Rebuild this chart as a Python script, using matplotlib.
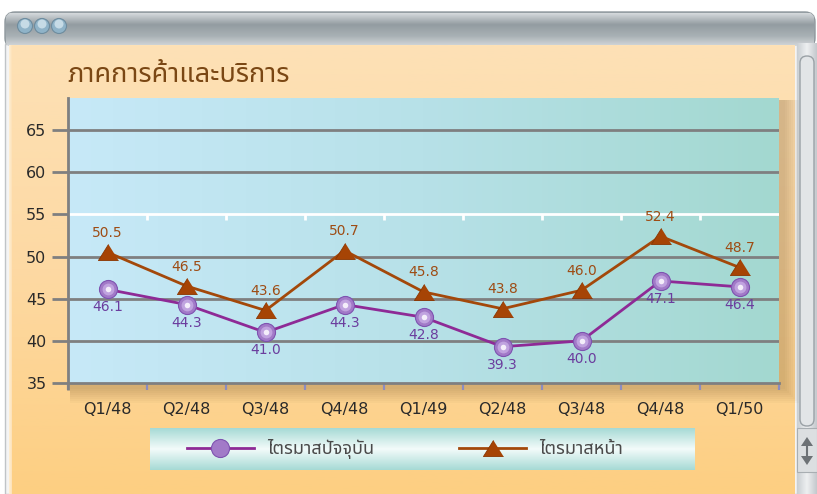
import numpy as np
import matplotlib
matplotlib.use("Agg")
import matplotlib.pyplot as plt
from matplotlib.patches import FancyBboxPatch, Rectangle, Circle, Polygon
from matplotlib.colors import LinearSegmentedColormap

# data
quarters = ["Q1/48", "Q2/48", "Q3/48", "Q4/48", "Q1/49", "Q2/48", "Q3/48", "Q4/48", "Q1/50"]
current_q = [46.1, 44.3, 41.0, 44.3, 42.8, 39.3, 40.0, 47.1, 46.4]
next_q = [50.5, 46.5, 43.6, 50.7, 45.8, 43.8, 46.0, 52.4, 48.7]
y_ticks = [35, 40, 45, 50, 55, 60, 65]
title = "ภาคการค้าและบริการ"
series_names = ["ไตรมาสปัจจุบัน", "ไตรมาสหน้า"]

plt.rcParams["font.family"] = ["DejaVu Sans", "Noto Sans Thai"]
THAI = ["Noto Sans Thai", "DejaVu Sans"]

W, H = 817, 494
fig = plt.figure(figsize=(W / 100, H / 100), dpi=100)
fig.patch.set_facecolor("white")

# background layer in pixel coordinates (window frame)
bg = fig.add_axes([0, 0, 1, 1], zorder=-10)
bg.set_xlim(0, W)
bg.set_ylim(H, 0)
bg.axis("off")


def grad(ax, x0, x1, y0, y1, colors, horizontal=False, z=0, stops=None):
    cmap = LinearSegmentedColormap.from_list("g", colors if stops is None else list(zip(stops, colors)))
    g = np.linspace(0, 1, 256)
    img = g[None, :] if horizontal else g[:, None]
    return ax.imshow(img, cmap=cmap, extent=[x0, x1, y1, y0], aspect="auto", zorder=z,
                     interpolation="bilinear")


# title bar
bar = FancyBboxPatch((5, 12), 810, 36, boxstyle="round,pad=0,rounding_size=10",
                     facecolor="#a8b0b5", edgecolor="#8e979c", lw=1, zorder=1)
bg.add_patch(bar)
im = grad(bg, 6, 814, 13, 46, ["#d6dadd", "#939ca1", "#a9b1b5", "#d3d7da"], z=1.5,
          stops=[0, 0.35, 0.7, 1])
im.set_clip_path(bar)
for cx in (25, 42, 59):
    bg.add_patch(Circle((cx, 26), 7.5, facecolor="#8fb3c8", edgecolor="#6e8c9e", lw=0.8, zorder=2))
    bg.add_patch(Circle((cx, 24), 4.5, facecolor="#c6dbe6", edgecolor="none", zorder=2.1))

# peach content area
bg.add_patch(Rectangle((5, 44), 792, 450, facecolor="#f4f4f4", edgecolor="#c0c4c7", lw=1, zorder=1))
grad(bg, 9, 795, 46, 494, ["#fde1b6", "#fdd9a3", "#fdcf82"], z=2)
grad(bg, 9, 12, 46, 494, ["#fff0d8", "#fde1b6"], horizontal=True, z=2.1)

# scrollbar
grad(bg, 797, 817, 44, 494, ["#c9ced2", "#eef0f1", "#c3c8cc"], horizontal=True, z=2)
bg.add_patch(FancyBboxPatch((800, 56), 14, 370, boxstyle="round,pad=0,rounding_size=7",
                            facecolor="#e2e5e7", edgecolor="#9aa1a6", lw=1, zorder=3))
bg.add_patch(Rectangle((797, 428), 20, 44, facecolor="#dcdfe1", edgecolor="#a8aeb2", lw=0.8, zorder=3))
bg.add_patch(Polygon([(801, 446), (813, 446), (807, 437)], facecolor="#6d7276", zorder=4))
bg.add_patch(Polygon([(801, 456), (813, 456), (807, 465)], facecolor="#6d7276", zorder=4))
bg.plot([807, 807], [445, 457], color="#6d7276", lw=1.5, zorder=4)

# title text
fig.text(67 / W, 1 - 75 / H, title, fontsize=19.5, color="#7a4714", family=THAI,
         va="center", ha="left")

# plot area shadow (soft, to the right and below)
for i in range(8):
    d = 18 - 2 * i
    bg.add_patch(Rectangle((68 + 2, 98 + 2), 711 + d, 285 + d, facecolor="#6b4a20",
                           alpha=0.035, edgecolor="none", zorder=3))

# legend box
grad(bg, 150, 695, 428, 470, ["#a6dad5", "#f3fbfa", "#a6dad5"], z=4)

# main axes
x0, x1, y0, y1 = 68, 779, 98, 383
px_per_unit = (383 - 130) / 30.0
ax = fig.add_axes([x0 / W, 1 - y1 / H, (x1 - x0) / W, (y1 - y0) / H])
ax.set_xlim(-0.5, len(quarters) - 0.5)
ax.set_ylim(35, 35 + (y1 - y0) / px_per_unit)
ax.patch.set_alpha(0)
cmap = LinearSegmentedColormap.from_list("bgp", ["#c7e9f8", "#b7e1e8", "#a3d8d0"])
ax.imshow(np.linspace(0, 1, 256)[None, :], cmap=cmap, aspect="auto",
          extent=[-0.5, len(quarters) - 0.5, 35, ax.get_ylim()[1]], zorder=0)

grid_c = "#7f7f80"
for v in y_ticks[1:]:
    ax.axhline(v, color="white" if v == 55 else grid_c, lw=2, zorder=1)

for s in ["top", "right"]:
    ax.spines[s].set_visible(False)
ax.spines["left"].set_color(grid_c)
ax.spines["left"].set_linewidth(2)
ax.spines["bottom"].set_color(grid_c)
ax.spines["bottom"].set_linewidth(2)

ax.set_yticks(y_ticks)
ax.tick_params(axis="y", length=11.5, width=2, color=grid_c, labelsize=11.5,
               labelcolor="#2a2a2a", pad=4)
for t, v in zip(ax.yaxis.get_major_ticks(), y_ticks):
    if v == 55:
        t.tick1line.set_color("white")

ax.set_xticks(range(len(quarters)))
ax.set_xticklabels(quarters)
ax.tick_params(axis="x", length=0, labelsize=11.5, labelcolor="#2a2a2a", pad=14)
bounds = np.arange(-0.5, len(quarters), 1.0)
ax.set_xticks(bounds, minor=True)
ax.tick_params(axis="x", which="minor", length=5, width=1.6, color="#8c8cc0")
# white ticks hanging from the 55 line
ax.vlines(bounds[1:-1], 55 - 6 / px_per_unit, 55, color="white", lw=2, zorder=1)
ax.vlines([-0.5], 35 - 7 / px_per_unit, 35, color=grid_c, lw=2, zorder=3, clip_on=False)

xs = np.arange(len(quarters))
l1, = ax.plot(xs, current_q, color="#8e2a96", lw=2, marker="o", ms=13,
              mfc="#a27ac8", mec="#7e52b0", mew=0.8, zorder=4, label=series_names[0])
ax.plot(xs, current_q, ls="none", marker="o", ms=8.5, mfc="#c4a8e2", mec="none",
        alpha=0.9, zorder=5)
ax.plot(xs, current_q, ls="none", marker="o", ms=4, mfc="#f7f2fc", mec="none",
        alpha=0.95, zorder=5)
tri = [(0, 0.8), (-1, -0.8), (1, -0.8)]
l2, = ax.plot(xs, next_q, color="#a3480a", lw=2, marker=tri, ms=14.5,
              mfc="#a64405", mec="#8a3500", mew=0.6, zorder=4, label=series_names[1])

for x, v in zip(xs, current_q):
    ax.annotate(f"{v:.1f}", (x, v), xytext=(0, -13), textcoords="offset points",
                ha="center", va="center", fontsize=10, color="#6b3d9e", zorder=6)
for x, v in zip(xs, next_q):
    ax.annotate(f"{v:.1f}", (x, v), xytext=(0, 14), textcoords="offset points",
                ha="center", va="center", fontsize=10, color="#9e4c14", zorder=6)

leg = fig.legend(handles=[l1, l2], loc="center left", bbox_to_anchor=(178 / W, 1 - 449 / H),
                 ncol=2, frameon=False, numpoints=1, handlelength=3.7, borderpad=0,
                 handletextpad=0.75, columnspacing=4.7, prop={"family": THAI, "size": 13})
for t in leg.get_texts():
    t.set_color("#4a4a4a")

fig.savefig("out.png", dpi=100)
